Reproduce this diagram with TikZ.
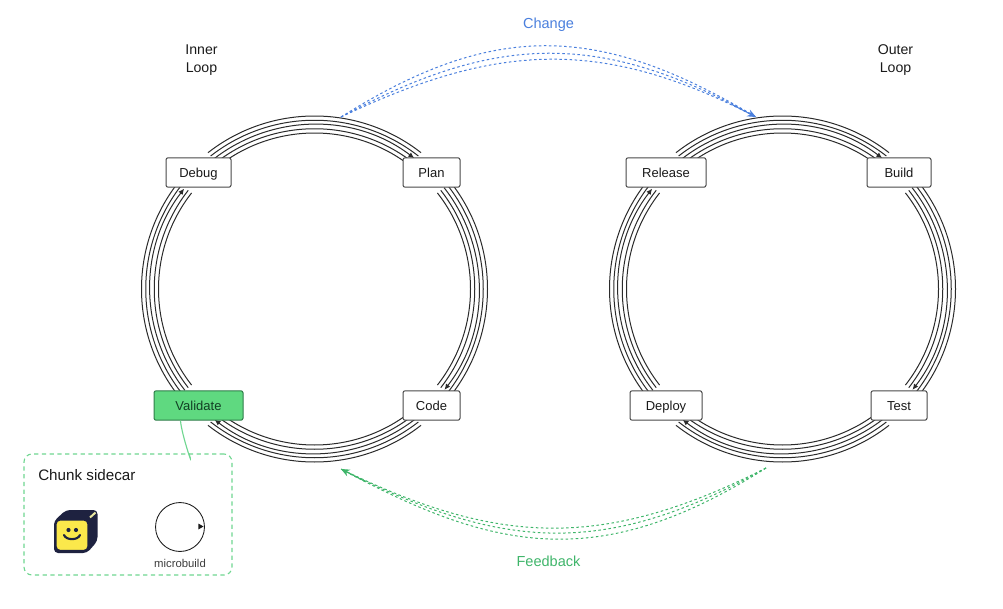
\documentclass[tikz,border=0pt]{standalone}
\usepackage{fontspec}
\setmainfont{Liberation Sans}
\usetikzlibrary{arrows.meta,calc}
\definecolor{ink}{HTML}{1A1A1A}
\definecolor{ringc}{HTML}{2B2B2B}
\definecolor{bluec}{HTML}{4A7FDD}
\definecolor{greenc}{HTML}{3FB56A}
\definecolor{sidec}{HTML}{6FD690}
\definecolor{valfill}{HTML}{5FD980}
\definecolor{valdraw}{HTML}{2E7D49}
\definecolor{valtext}{HTML}{123F24}
\definecolor{cubedark}{HTML}{1E2240}
\definecolor{cubeyellow}{HTML}{FBE84B}
\definecolor{stripe}{HTML}{E8E6A0}
\tikzset{
  stage/.style={draw=ink!80,line width=.75pt,fill=white,rounded corners=1.5pt,inner sep=0pt,minimum height=22pt,text=ink,text height=9.2pt,text depth=2pt,font=\fontsize{9.75pt}{12pt}\selectfont},
  hilite/.style={stage,draw=valdraw,fill=valfill,text=valtext},
  ringline/.style={draw=ringc,line width=.75pt},
  tiplined/.style={ringline,-{Latex[length=4.4pt,width=4pt]}},
  loopmark/.style={align=center,text=ink,font=\fontsize{10.6pt}{13.4pt}\selectfont},
  changelink/.style={draw=bluec,line width=.75pt,dash pattern=on 1.9pt off 1.9pt},
  feedlink/.style={draw=greenc,line width=.75pt,dash pattern=on 1.9pt off 1.9pt},
}
% centre, start angle, end angle, end angle of the arrow-bearing middle line
\newcommand{\ringarc}[4]{%
  \foreach \rr in {173,168.75,160.25,156}{\draw[ringline] (#1) ++(#2:\rr) arc[start angle=#2,end angle=#3,radius=\rr];}
  \draw[tiplined] (#1) ++(#2:164.5) arc[start angle=#2,end angle=#4,radius=164.5];}
\begin{document}
\begin{tikzpicture}[x=.75pt,y=.75pt]
\useasboundingbox (0,0) rectangle (1003,608);
\coordinate (innerC) at (314.5,319);
\coordinate (outerC) at (782.5,319);
% rings
\foreach \cc in {innerC,outerC}{
  \ringarc{\cc}{128}{52}{52.7}
  \ringarc{\cc}{38}{-38}{-37.8}
  \ringarc{\cc}{308}{232}{232.6}
  \ringarc{\cc}{218}{142}{142.4}
}
% stages
\node[stage,minimum width=48.75pt] (debug) at (198.5,435.5) {Debug};
\node[stage,minimum width=42.75pt] (plan) at (431.5,435.5) {Plan};
\node[stage,minimum width=42.75pt] (code) at (431.5,202.5) {Code};
\node[hilite,minimum width=66.75pt] (validate) at (198.5,202.5) {Validate};
\node[stage,minimum width=60pt] (release) at (666,435.5) {Release};
\node[stage,minimum width=48pt] (build) at (899,435.5) {Build};
\node[stage,minimum width=42pt] (test) at (899,202.5) {Test};
\node[stage,minimum width=54pt] (deploy) at (666,202.5) {Deploy};
% captions
\node[loopmark] (innerlab) at (201.5,548) {Inner\\Loop};
\node[loopmark] (outerlab) at (895.5,548) {Outer\\Loop};
\node[text=bluec,font=\fontsize{10.9pt}{13pt}\selectfont] (changelab) at (548.5,583) {Change};
\node[text=greenc,font=\fontsize{10.9pt}{13pt}\selectfont] (feedlab) at (548.5,47) {Feedback};
% change / feedback links
\coordinate (changeA) at (341,491);
\coordinate (changeB) at (756,491);
\coordinate (feedA) at (766,140);
\coordinate (feedB) at (341,139);
\draw[changelink] (changeA) .. controls (495,588) and (600,584) .. (changeB);
\draw[changelink] (changeA) .. controls (495,574) and (600,578) .. (changeB);
\draw[changelink] (changeA) .. controls (495,564) and (600,572) .. (changeB);
\draw[-{Stealth[length=6.5pt,width=5.5pt]},bluec,line width=.7pt] ($(changeB)+(-24,12.4)$) -- (changeB);
\draw[feedlink] (feedA) .. controls (600,56) and (495,64) .. (feedB);
\draw[feedlink] (feedA) .. controls (600,46) and (495,61) .. (feedB);
\draw[feedlink] (feedA) .. controls (600,35) and (495,56) .. (feedB);
\draw[-{Stealth[length=6.5pt,width=5.5pt]},greenc,line width=.7pt] ($(feedB)+(24,-12.4)$) -- (feedB);
% sidecar
\node[draw=sidec,dash pattern=on 3.2pt off 2.6pt,line width=.85pt,rounded corners=6pt,minimum width=156pt,minimum height=90.75pt,inner sep=0pt] (sidecar) at (128,93.5) {};
\draw[draw=sidec,line width=.85pt] (validate.south)++(-18,0) .. controls ++(1,-14) and ++(6,-20) .. (sidecar.north -|189,0);
\node[anchor=west,inner sep=0pt,text=ink,font=\fontsize{11.4pt}{14pt}\selectfont] (sidelab) at (38,133) {Chunk sidecar};
\node[draw=ink,circle,line width=.65pt,minimum size=36.7pt,inner sep=0pt] (mb) at (180,81) {};
\coordinate (mbtip) at (203.5,81.5);
\fill[ink] (mbtip) -- ++(-5.2,3) -- ++(0,-6) -- cycle;
\node[text=ink!85,font=\fontsize{8.5pt}{10pt}\selectfont] (mblab) at (180,45) {microbuild};
% cube
\begin{scope}[shift={(0,608)},yscale=-1]
  \fill[cubedark,rounded corners=3pt] (54,521) -- (66,510) -- (97.5,510) -- (97.5,541) -- (87,553) -- (54,553) -- cycle;
  \fill[cubeyellow,draw=cubedark,line width=1.6pt,rounded corners=3.5pt] (55.5,519.5) rectangle (88.5,551);
  \draw[stripe,line width=1.5pt] (90,517.5) -- (95.5,512.5);
  \fill[cubedark] (68.5,530) circle (2.1);
  \fill[cubedark] (76,530) circle (2.1);
  \draw[cubedark,line width=1.6pt,line cap=round] (64,535) .. controls (66,540.5) and (78,540.5) .. (80,535);
\end{scope}
\end{tikzpicture}
\end{document}
